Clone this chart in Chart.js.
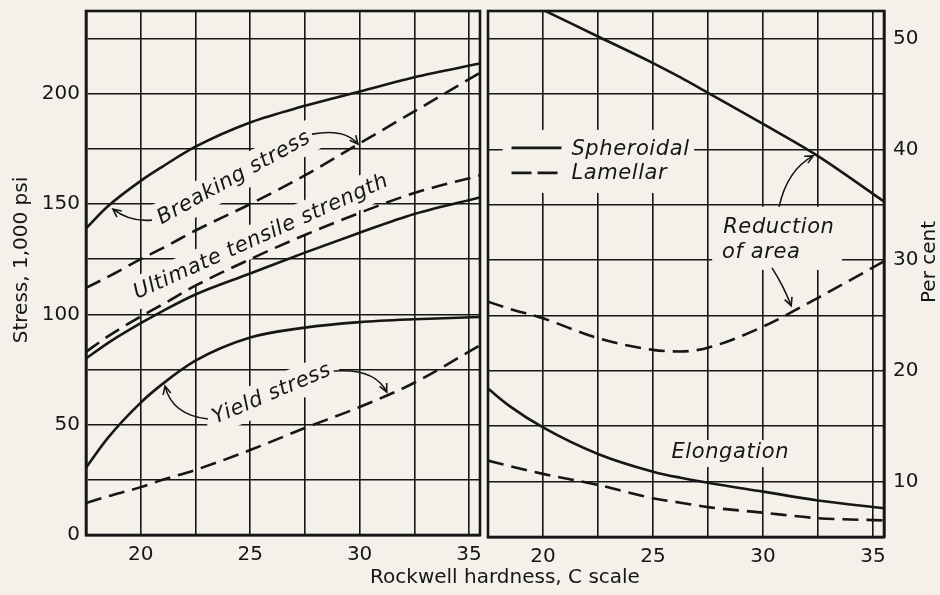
<!DOCTYPE html>
<html>
<head>
<meta charset="utf-8">
<script src="https://cdn.jsdelivr.net/npm/chart.js@4.4.1/dist/chart.umd.min.js"></script>
<style>
  body { margin: 0; background: #f3f1ea; }
  #wrap { position: relative; width: 940px; height: 595px; overflow: hidden; }
  canvas { position: absolute; left: 0; top: 0; }
</style>
</head>
<body>
<div id="wrap">
  <canvas id="stressChart" width="940" height="595"></canvas>
  <canvas id="percentChart" width="940" height="595"></canvas>
</div>
<script>
// left panel: stress, 1,000 psi
const hardnessLeft = [17.5, 18.5, 20, 21, 22.5, 25, 27.5, 30, 32.5, 35.5]
const breakingSpheroidal = [139, 149, 160.5, 167, 176, 187, 194.5, 201, 207.5, 213.7]
const breakingLamellar = [112, 117, 125, 130, 138, 150, 163, 177.5, 192, 209.5]
const tensileSpheroidal = [80, 87, 96, 101.5, 109, 118.5, 128, 137, 145.5, 153]
const tensileLamellar = [83, 90, 99, 104.5, 113, 125, 136, 146, 155, 163]
const yieldSpheroidal = [30.5, 44, 60, 68.5, 79, 89.5, 94, 96.5, 97.8, 98.8]
const yieldLamellar = [14.5, 17.5, 21.7, 25, 29.5, 38.5, 48.5, 58, 69, 86]

// right panel: per cent
const hardnessRight = [17.5, 18.5, 20, 22.5, 25, 26.25, 27.5, 30, 32.5, 35.5]
const reductionSpheroidal = [null, null, 52.6, 50.2, 47.8, 46.5, 45.1, 42.3, 39.4, 35.3]
const reductionLamellar = [26.25, 25.6, 24.75, 22.95, 21.9, 21.75, 22.1, 24.0, 26.6, 29.9]
const elongationSpheroidal = [18.4, 16.8, 14.9, 12.5, 10.9, 10.35, 9.9, 9.1, 8.3, 7.6]
const elongationLamellar = [11.9, 11.4, 10.7, 9.7, 8.5, 8.1, 7.7, 7.2, 6.7, 6.5]

const hardnessTicks = [20, 25, 30, 35]
const stressTicks = [0, 50, 100, 150, 200]
const percentTicks = [10, 20, 30, 40, 50]

const ink = '#161616'
const paper = '#f3f1ea'
const family = '"DejaVu Sans", sans-serif'

Chart.defaults.font.family = family
Chart.defaults.color = ink

const toPx = (chart, x, y) => ({
  x: chart.scales.x.getPixelForValue(x),
  y: chart.scales.y.getPixelForValue(y),
})

const drawArrow = (ctx, a, c, b) => {
  ctx.beginPath()
  ctx.moveTo(a.x, a.y)
  ctx.quadraticCurveTo(c.x, c.y, b.x, b.y)
  ctx.stroke()
  const ang = Math.atan2(b.y - c.y, b.x - c.x)
  ctx.beginPath()
  ctx.moveTo(b.x - 9 * Math.cos(ang - 0.45), b.y - 9 * Math.sin(ang - 0.45))
  ctx.lineTo(b.x, b.y)
  ctx.lineTo(b.x - 9 * Math.cos(ang + 0.45), b.y - 9 * Math.sin(ang + 0.45))
  ctx.stroke()
}

const notes = {
  id: 'notes',
  beforeDatasetsDraw(chart, args, opts) {
    const ctx = chart.ctx
    ctx.save()
    ctx.fillStyle = paper
    ;(opts.masks || []).forEach((m) => {
      const p1 = toPx(chart, m[0], m[1])
      const p2 = toPx(chart, m[2], m[3])
      ctx.fillRect(p1.x, p1.y, p2.x - p1.x, p2.y - p1.y)
    })
    ctx.font = `italic 21px ${family}`
    ctx.letterSpacing = '0.6px'
    ctx.textBaseline = 'middle'
    ;(opts.labels || []).forEach((l) => {
      const p = toPx(chart, l.x, l.y)
      const w = ctx.measureText(l.text).width
      ctx.save()
      ctx.translate(p.x, p.y)
      ctx.rotate((l.angle || 0) * Math.PI / 180)
      ctx.textAlign = l.align || 'center'
      if (l.mask) {
        const left = l.align === 'left' ? 0 : -w / 2
        ctx.fillStyle = paper
        ctx.fillRect(left - l.mask, -16, w + 2 * l.mask, 32)
      }
      ctx.fillStyle = ink
      ctx.fillText(l.text, 0, 0)
      ctx.restore()
    })
    ctx.strokeStyle = ink
    ctx.lineWidth = 2.6
    ;(opts.keys || []).forEach((k) => {
      const a = toPx(chart, k.x1, k.y)
      const b = toPx(chart, k.x2, k.y)
      ctx.setLineDash(k.dash)
      ctx.beginPath()
      ctx.moveTo(a.x, a.y)
      ctx.lineTo(b.x, b.y)
      ctx.stroke()
    })
    ctx.restore()
  },
  afterDatasetsDraw(chart, args, opts) {
    const ctx = chart.ctx
    const area = chart.chartArea
    ctx.save()
    ctx.strokeStyle = ink
    // full frame round the panel
    ctx.lineWidth = 2.6
    ctx.strokeRect(area.left, area.top, area.right - area.left, area.bottom - area.top)
    ctx.lineWidth = 1.6
    ;(opts.arrows || []).forEach((r) => {
      drawArrow(ctx, toPx(chart, r[0], r[1]), toPx(chart, r[2], r[3]), toPx(chart, r[4], r[5]))
    })
    ctx.restore()
  },
  afterDraw(chart, args, opts) {
    const ctx = chart.ctx
    ctx.save()
    ctx.fillStyle = ink
    ctx.font = `20px ${family}`
    ctx.textAlign = 'center'
    ctx.textBaseline = 'middle'
    ;(opts.titles || []).forEach((t) => {
      ctx.save()
      ctx.translate(t.x, t.y)
      ctx.rotate((t.angle || 0) * Math.PI / 180)
      ctx.fillText(t.text, 0, 0)
      ctx.restore()
    })
    ctx.restore()
  },
}

const series = (xs, ys, dashed) => ({
  data: xs.map((x, i) => ({ x, y: ys[i] })),
  borderColor: ink,
  borderWidth: 2.6,
  borderDash: dashed ? [16, 8] : [],
  pointRadius: 0,
  cubicInterpolationMode: 'monotone',
  fill: false,
})

const gridStyle = {
  color: ink,
  lineWidth: 1.6,
  drawTicks: false,
}
const borderStyle = { color: ink, width: 2.6 }

// no extra room for the end labels, the layout padding places the panels
const noPad = (scale) => {
  scale.paddingTop = 0
  scale.paddingBottom = 0
  scale.paddingLeft = 0
  scale.paddingRight = 0
}

const xAxis = (height) => ({
  type: 'linear',
  min: 17.5,
  max: 35.5,
  grid: gridStyle,
  border: borderStyle,
  afterFit: (scale) => {
    scale.height = height
    noPad(scale)
  },
  ticks: {
    stepSize: 2.5,
    includeBounds: false,
    autoSkip: false,
    maxRotation: 0,
    padding: 8,
    font: { size: 20 },
    callback: (v) => hardnessTicks.includes(v) ? v : '',
  },
})

const stressChart = new Chart('stressChart', {
  type: 'line',
  data: {
    datasets: [
      series(hardnessLeft, breakingSpheroidal, false),
      series(hardnessLeft, breakingLamellar, true),
      series(hardnessLeft, tensileSpheroidal, false),
      series(hardnessLeft, tensileLamellar, true),
      series(hardnessLeft, yieldSpheroidal, false),
      series(hardnessLeft, yieldLamellar, true),
    ],
  },
  options: {
    responsive: false,
    animation: false,
    devicePixelRatio: 1,
    layout: { padding: { left: 0, top: 11, right: 460, bottom: 0 } },
    scales: {
      x: xAxis(60),
      y: {
        min: 0,
        max: 237.5,
        grid: gridStyle,
        border: borderStyle,
        afterFit: (scale) => {
          scale.width = 86
          noPad(scale)
        },
        ticks: {
          stepSize: 25,
          includeBounds: false,
          autoSkip: false,
          padding: 6,
          font: { size: 20 },
          callback: (v) => stressTicks.includes(v) ? v : '',
        },
      },
    },
    plugins: {
      legend: { display: false },
      tooltip: { enabled: false },
      notes: {
        labels: [
          { text: 'Breaking stress', x: 24.26, y: 161.8, angle: -29, mask: 8 },
          { text: 'Ultimate tensile strength', x: 25.5, y: 135, angle: -24.3, mask: 4 },
          { text: 'Yield stress', x: 25.99, y: 63.9, angle: -23, mask: 8 },
        ],
        arrows: [
          [20.51, 142.7, 19.51, 141.8, 18.73, 147.7],
          [27.82, 181.7, 29.33, 184.4, 29.92, 177.2],
          [23.07, 52.6, 21.43, 54.4, 21.11, 67.5],
          [28.82, 74.3, 30.7, 75.7, 31.24, 64.8],
        ],
        titles: [
          { text: 'Stress, 1,000 psi', x: 22, y: 260, angle: -90 },
          { text: 'Rockwell hardness, C scale', x: 505, y: 578 },
        ],
      },
    },
  },
  plugins: [notes],
})

const percentChart = new Chart('percentChart', {
  type: 'line',
  data: {
    datasets: [
      series(hardnessRight, reductionSpheroidal, false),
      series(hardnessRight, reductionLamellar, true),
      series(hardnessRight, elongationSpheroidal, false),
      series(hardnessRight, elongationLamellar, true),
    ],
  },
  options: {
    responsive: false,
    animation: false,
    devicePixelRatio: 1,
    layout: { padding: { left: 488, top: 11, right: 0, bottom: 0 } },
    scales: {
      x: xAxis(58),
      y: {
        position: 'right',
        min: 5,
        max: 52.5,
        grid: gridStyle,
        border: borderStyle,
        afterFit: (scale) => {
          scale.width = 56
          noPad(scale)
        },
        ticks: {
          stepSize: 5,
          includeBounds: false,
          autoSkip: false,
          padding: 9,
          font: { size: 20 },
          callback: (v) => percentTicks.includes(v) ? v : '',
        },
      },
    },
    plugins: {
      legend: { display: false },
      tooltip: { enabled: false },
      notes: {
        masks: [
          [18.16, 41.77, 26.87, 36.07],
          [27.69, 34.81, 33.59, 29.12],
          [25.83, 13.76, 31.19, 11.32],
        ],
        keys: [
          { x1: 18.57, x2: 20.84, y: 40.14, dash: [] },
          { x1: 18.57, x2: 20.84, y: 37.88, dash: [20, 6] },
        ],
        labels: [
          { text: 'Spheroidal', x: 21.29, y: 39.96, align: 'left' },
          { text: 'Lamellar', x: 21.29, y: 37.79, align: 'left' },
          { text: 'Reduction', x: 28.19, y: 32.91, align: 'left' },
          { text: 'of area', x: 28.14, y: 30.65, align: 'left' },
          { text: 'Elongation', x: 28.51, y: 12.59 },
        ],
        arrows: [
          [30.73, 34.81, 31.1, 38.15, 32.28, 39.42],
          [30.41, 29.3, 30.96, 27.58, 31.28, 25.87],
        ],
        titles: [
          { text: 'Per cent', x: 930, y: 262, angle: -90 },
        ],
      },
    },
  },
  plugins: [notes],
})
</script>
</body>
</html>
